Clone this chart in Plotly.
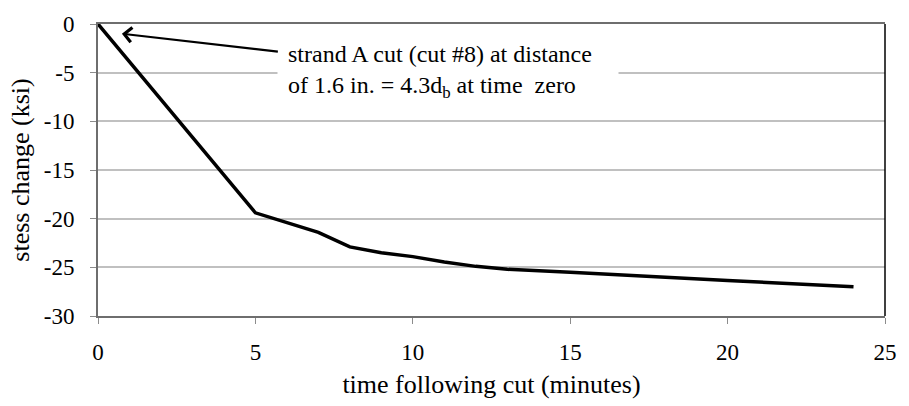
import plotly.graph_objects as go

# Stress change in strand after cut vs. elapsed time
time_min = [0, 5, 7, 8, 9, 10, 11, 12, 13, 15, 20, 24]
stress_ksi = [0, -19.4, -21.4, -22.9, -23.5, -23.9, -24.45, -24.9, -25.2, -25.5, -26.35, -27.0]

x_ticks = [0, 5, 10, 15, 20, 25]
y_ticks = [0, -5, -10, -15, -20, -25, -30]

FONT = "Times New Roman"
TICK_SIZE = 23
TITLE_SIZE = 26
NOTE_SIZE = 24

fig = go.Figure()
fig.add_trace(go.Scatter(
    x=time_min, y=stress_ksi, mode="lines",
    line=dict(color="black", width=3.5),
    showlegend=False, hoverinfo="skip",
))

fig.update_layout(
    width=909, height=406,
    margin=dict(l=98, r=16, t=19, b=90),
    paper_bgcolor="white", plot_bgcolor="white",
    font=dict(family=FONT, size=TICK_SIZE, color="black"),
    xaxis=dict(
        range=[0, 25], tickvals=x_ticks, ticktext=[str(v) for v in x_ticks],
        showgrid=False, zeroline=False,
        showline=True, linecolor="#6e6e6e", linewidth=2, mirror=True,
        ticks="outside", ticklen=6, tickcolor="#8c8c8c", tickwidth=1,
        tickfont=dict(family=FONT, size=TICK_SIZE, color="black"),
        ticklabelstandoff=8,
        title=dict(text="time following cut (minutes)", standoff=11,
                   font=dict(family=FONT, size=TITLE_SIZE, color="black")),
    ),
    yaxis=dict(
        range=[-30, 0], tickvals=y_ticks, ticktext=[str(v) for v in y_ticks],
        showgrid=True, gridcolor="#c0c0c0", gridwidth=1.5, zeroline=False,
        showline=True, linecolor="#6e6e6e", linewidth=2,
        ticks="outside", ticklen=6, tickcolor="#8c8c8c", tickwidth=1,
        tickfont=dict(family=FONT, size=TICK_SIZE, color="black"),
        ticklabelstandoff=11,
        title=dict(text="stess change (ksi)", standoff=7,
                   font=dict(family=FONT, size=TITLE_SIZE, color="black")),
    ),
)

# right border of the plot area
fig.add_shape(type="line", xref="paper", yref="paper", x0=1, x1=1, y0=0, y1=1,
              line=dict(color="black", width=1.5))

# callout with arrow pointing at the cut moment
fig.add_annotation(
    x=0.76, y=-1.0, ax=11.13, ay=-4.85, axref="x", ayref="y",
    showarrow=True, arrowhead=4, arrowsize=1.3,
    arrowwidth=2.2, arrowcolor="black",
    align="left", bgcolor="white", borderpad=10, width=320,
    text="strand A cut (cut #8) at distance<br>of 1.6 in. = 4.3d<sub>b</sub> at time  zero",
    font=dict(family=FONT, size=NOTE_SIZE, color="black"),
)

fig.write_html("out.html")
